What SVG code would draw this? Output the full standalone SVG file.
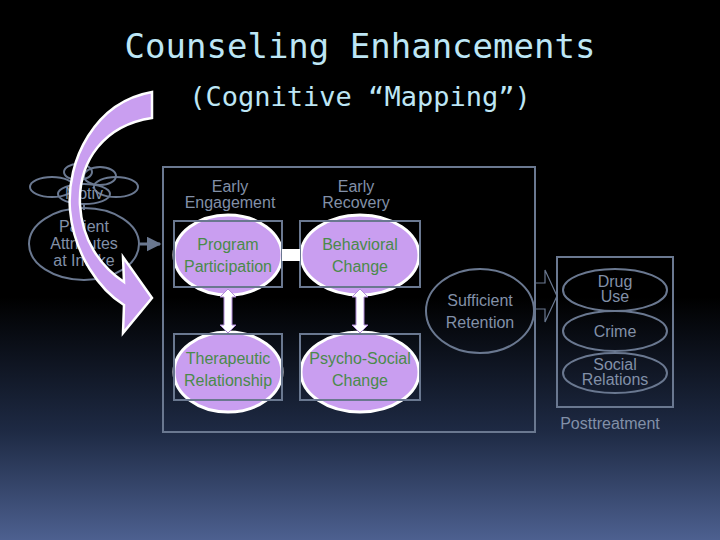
<svg xmlns="http://www.w3.org/2000/svg" width="720" height="540" viewBox="0 0 720 540">
<defs>
<linearGradient id="bg" x1="0" y1="0" x2="0" y2="1">
<stop offset="0" stop-color="#000"/><stop offset="0.55" stop-color="#000"/><stop offset="0.8" stop-color="#1e2a44"/><stop offset="1" stop-color="#4d6090"/>
</linearGradient>
<marker id="ah" viewBox="0 0 10 10" refX="9" refY="5" markerWidth="5" markerHeight="5" orient="auto"><path d="M0,0L10,5L0,10z" fill="#6a7890"/></marker>
</defs>
<style>
.t{font-family:"DejaVu Sans Mono",monospace;fill:#bde6f5}
.lbl{font-family:"Liberation Sans",Arial,sans-serif;fill:#8290a8;font-size:16px;text-anchor:middle}
.gl{font-family:"Liberation Sans",Arial,sans-serif;fill:#4a8a4a;font-size:16px;text-anchor:middle}
.pe{fill:#c99ef0;stroke:#fff;stroke-width:3}
.bx{fill:none;stroke:#6a7890;stroke-width:2}
.ol{fill:none;stroke:#6a7890;stroke-width:2}
.dbl{fill:#fff;stroke:#b08ad8;stroke-width:1}
.curve{fill:#c99ef0;stroke:#fff;stroke-width:2.5}
</style>
<rect width="720" height="540" fill="url(#bg)"/>
<text class="t" x="360" y="58" font-size="34" text-anchor="middle">Counseling Enhancements</text>
<text class="t" x="360" y="106" font-size="27" text-anchor="middle">(Cognitive “Mapping”)</text>

<g id="container"><rect x="163" y="167" width="372" height="265" class="bx"/></g>

<g id="motiv">
<ellipse cx="78" cy="172" rx="14" ry="8" class="ol" stroke-width="1.5"/>
<ellipse cx="100" cy="176" rx="16" ry="9" class="ol" stroke-width="1.5"/>
<ellipse cx="52" cy="187" rx="22" ry="10" class="ol" stroke-width="1.5"/>
<ellipse cx="116" cy="187" rx="22" ry="10" class="ol" stroke-width="1.5"/>
<ellipse cx="84" cy="194" rx="26" ry="10" class="ol" stroke-width="1.5"/>
<text class="lbl" x="84" y="199" font-size="13">Motiv</text>
<line x1="84" y1="204" x2="84" y2="210" stroke="#6a7890" stroke-width="2"/>
</g>
<g id="patient">
<ellipse cx="84" cy="244" rx="55" ry="36" class="ol"/>
<text class="lbl" x="84" y="232">Patient</text>
<text class="lbl" x="84" y="249">Attributes</text>
<text class="lbl" x="84" y="266">at Intake</text>
</g>

<text class="lbl" x="230" y="192">Early</text>
<text class="lbl" x="230" y="208">Engagement</text>
<text class="lbl" x="356" y="192">Early</text>
<text class="lbl" x="356" y="208">Recovery</text>

<g id="pp"><ellipse cx="228" cy="255" rx="54" ry="40" class="pe"/><rect x="174" y="221" width="108" height="66" class="bx"/>
<text class="gl" x="228" y="250">Program</text><text class="gl" x="228" y="272">Participation</text></g>
<g id="bc"><ellipse cx="360" cy="255" rx="59" ry="40" class="pe"/><rect x="300" y="221" width="120" height="66" class="bx"/>
<text class="gl" x="360" y="250">Behavioral</text><text class="gl" x="360" y="272">Change</text></g>
<g id="tr"><ellipse cx="228" cy="372" rx="54" ry="40" class="pe"/><rect x="174" y="334" width="108" height="66" class="bx"/>
<text class="gl" x="228" y="364">Therapeutic</text><text class="gl" x="228" y="386">Relationship</text></g>
<g id="psc"><ellipse cx="360" cy="372" rx="59" ry="40" class="pe"/><rect x="300" y="334" width="120" height="66" class="bx"/>
<text class="gl" x="360" y="364">Psycho-Social</text><text class="gl" x="360" y="386">Change</text></g>

<g id="retention"><ellipse cx="480" cy="311" rx="54" ry="42" class="ol"/>
<text class="lbl" x="480" y="306" font-size="17">Sufficient</text><text class="lbl" x="480" y="328" font-size="17">Retention</text></g>

<g id="post"><rect x="557" y="257" width="116" height="150" class="bx"/>
<ellipse cx="615" cy="290" rx="52" ry="21" class="ol"/>
<text class="lbl" x="615" y="287" font-size="13">Drug</text><text class="lbl" x="615" y="302" font-size="13">Use</text>
<ellipse cx="615" cy="331" rx="52" ry="20" class="ol"/>
<text class="lbl" x="615" y="337" font-size="14">Crime</text>
<ellipse cx="615" cy="373" rx="52" ry="20" class="ol"/>
<text class="lbl" x="615" y="370" font-size="14">Social</text><text class="lbl" x="615" y="385" font-size="14">Relations</text>
<text class="lbl" x="610" y="429" font-size="19">Posttreatment</text></g>

<g id="connectors">
<line x1="140" y1="244" x2="160" y2="244" stroke="#6a7890" stroke-width="3" marker-end="url(#ah)"/>
<rect x="282" y="249" width="18" height="12" fill="#fff"/>
<path class="dbl" d="M228,289 L236,297 L232,297 L232,325 L236,325 L228,333 L220,325 L224,325 L224,297 L220,297 Z"/>
<path class="dbl" d="M360,289 L368,297 L364,297 L364,325 L368,325 L360,333 L352,325 L356,325 L356,297 L352,297 Z"/>
<path d="M534,283 L545,283 L545,270 L557,296 L545,322 L545,309 L534,309" fill="none" stroke="#6a7890" stroke-width="1.2"/>
<path class="curve" d="M152,92 C95,102 66,160 70,210 C74,255 100,290 124,305 L123,333 L152,298 L123,257 L124,282 C100,266 82,240 80,205 C78,160 105,125 152,118 Z"/>
</g>
</svg>
